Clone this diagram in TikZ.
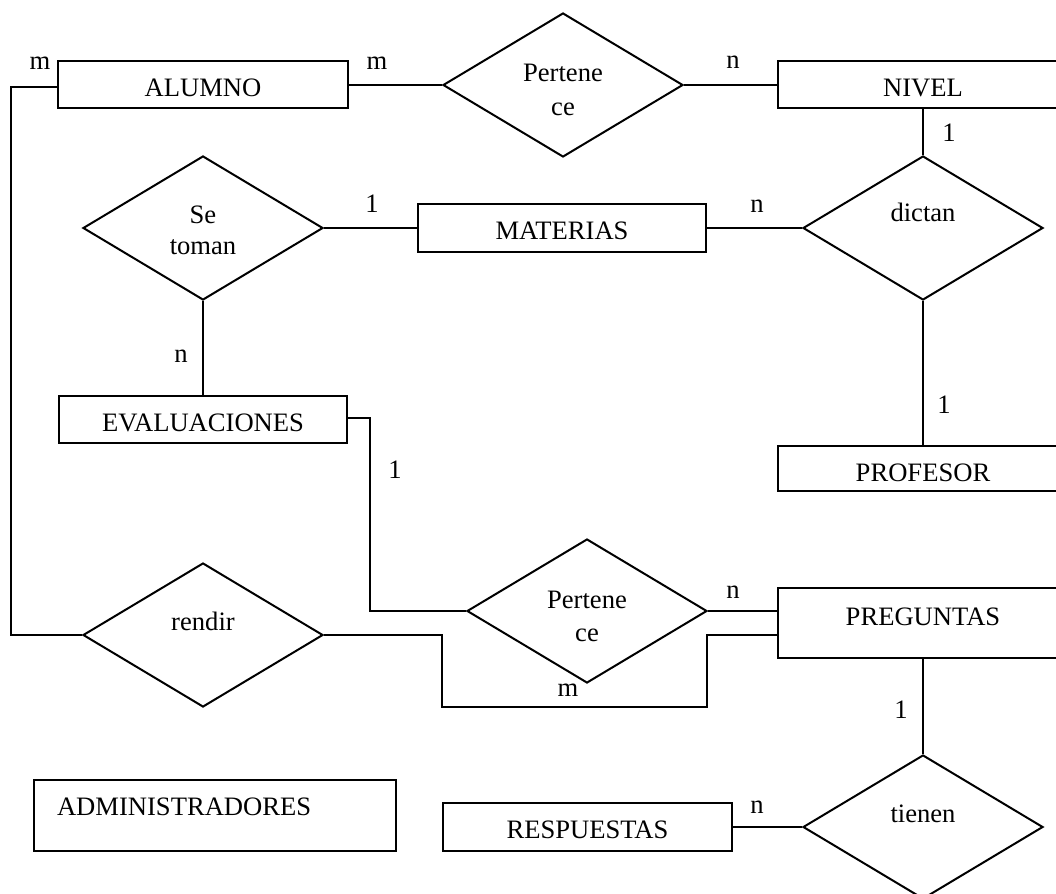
\documentclass[tikz,border=0pt]{standalone}
\usepackage{fontspec}
\setmainfont{Liberation Serif}
\usetikzlibrary{shapes.geometric}

% two centred lines; the node's base anchor sits on the first line's baseline
\newcommand{\twolines}[3][2.5pt]{\begin{tabular}[t]{@{}c@{}}#2\\[#1]#3\end{tabular}}

\begin{document}
\begin{tikzpicture}[x=1pt,y=-1pt,
  line width=2pt,
  every node/.style={font=\fontsize{26.6}{29}\selectfont},
  entity/.style={draw, rectangle, inner sep=0pt, minimum width=290pt,
    minimum height=47pt, text height=23pt, text depth=0pt},
  relation/.style={draw, diamond, inner sep=0pt, minimum width=240pt,
    minimum height=144pt},
  rtext/.style={anchor=base, inner sep=0pt},
  card/.style={anchor=base, inner sep=0pt}]

\useasboundingbox (0,0) rectangle (1056,893);
\clip (0,0) rectangle (1056,893);

% entities
\node[entity] (alumno) at (203,85) {ALUMNO};
\node[entity] (nivel) at (923,85) {NIVEL};
\node[entity, minimum width=288pt, minimum height=48pt] (materias) at (562,228) {MATERIAS};
\node[entity, minimum width=288pt] (evaluaciones) at (203,419.5) {EVALUACIONES};
\node[entity, minimum height=45pt, text height=25pt] (profesor) at (923,468.5) {PROFESOR};
\node[entity, minimum height=70pt, text height=17pt, text depth=12pt] (preguntas) at (923,623) {PREGUNTAS};
\node[entity, minimum width=289pt, minimum height=48pt] (respuestas) at (587.5,827) {RESPUESTAS};
\node[entity, minimum width=362pt, minimum height=71pt] (admin) at (215,815.5) {};
\node[anchor=base west, inner sep=0pt] (admintext) at (56,815) {ADMINISTRADORES};

% relationships
\node[relation] (pert1) at (563,85) {};
\node[relation] (setoman) at (203,228) {};
\node[relation] (dictan) at (923,228) {};
\node[relation] (pert2) at (587,611) {};
\node[relation] (rendir) at (203,635) {};
\node[relation] (tienen) at (923,827) {};

\node[rtext] (pert1t) at (563,82) {\twolines[5pt]{Pertene}{ce}};
\node[rtext] (setomant) at (203,223) {\twolines{Se}{toman}};
\node[rtext] (dictant) at (923,222) {dictan};
\node[rtext] (pert2t) at (587,608) {\twolines[4pt]{Pertene}{ce}};
\node[rtext] (rendirt) at (203,630) {rendir};
\node[rtext] (tienent) at (923,822) {tienen};

% connectors
\coordinate (leftrail) at (11,0);
\coordinate (loopa) at (442,707);
\coordinate (loopb) at (707,707);
\coordinate (evalbend) at (370,0);

\draw (alumno.east) -- (pert1.west);
\draw (pert1.east) -- (nivel.west);
\draw (nivel.south) -- (dictan.north);
\draw (setoman.east) -- (materias.west);
\draw (materias.east) -- (dictan.west);
\draw (setoman.south) -- (evaluaciones.north);
\draw (dictan.south) -- (profesor.north);
\draw ([yshift=1.5pt]evaluaciones.east) -| (evalbend |- pert2.west) -- (pert2.west);
\draw (pert2.east) -- (pert2.east -| preguntas.west);
\draw (rendir.east) -| (loopa) -- (loopb) |- (rendir.east -| preguntas.west);
\draw (rendir.west) -| ([yshift=-2pt]leftrail |- alumno.west) -- ([yshift=-2pt]alumno.west);
\draw (preguntas.south) -- (tienen.north);
\draw (respuestas.east) -- (tienen.west);

% cardinalities
\node[card] (c1) at (40,70) {m};
\node[card] (c2) at (377,70) {m};
\node[card] (c3) at (733,69) {n};
\node[card] (c4) at (949,142) {1};
\node[card] (c5) at (372,213) {1};
\node[card] (c6) at (757,213) {n};
\node[card] (c7) at (181,362) {n};
\node[card] (c8) at (944,413) {1};
\node[card] (c9) at (395,478) {1};
\node[card] (c10) at (733,598) {n};
\node[card] (c11) at (568,696) {m};
\node[card] (c12) at (901,718) {1};
\node[card] (c13) at (757,813) {n};
\end{tikzpicture}
\end{document}
